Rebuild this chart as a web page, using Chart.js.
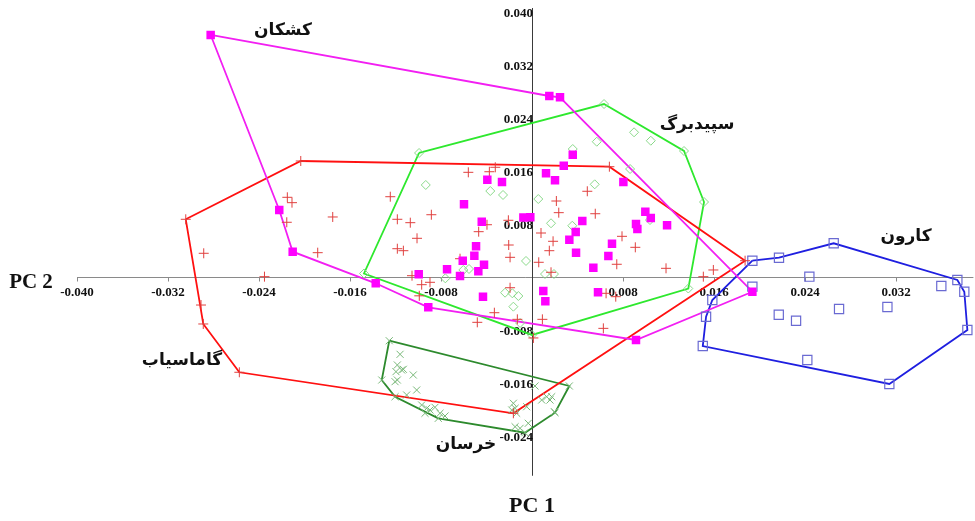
<!DOCTYPE html>
<html>
<head>
<meta charset="utf-8">
<script src="https://cdn.jsdelivr.net/npm/chart.js@4.4.1/dist/chart.umd.min.js"></script>
<style>
  html, body { margin: 0; padding: 0; background: #ffffff; }
  #wrap { width: 975px; height: 521px; }
</style>
</head>
<body>
<div id="wrap"><canvas id="pca" width="975" height="521"></canvas></div>
<script>
// PCA scores (PC 1, PC 2) for five populations.
// In every group the first points are the hull vertices, listed in drawing order.

const kashkanX = [-0.02825, 0.00152, 0.00246, 0.01937, 0.00914, -0.00912, -0.01374, -0.02104, -0.02222,
  0.00358, 0.00279, 0.00123, 0.00202, -0.00393, -0.00264, 0.00803, -0.00598, -0.00076, -0.00015,
  -0.00442, 0.00996, 0.01044, 0.00442, 0.00914, 0.00926, 0.01187, 0.00384, 0.00328, 0.00703,
  -0.00492, -0.00507, 0.00387, 0.00671, -0.00609, -0.00422, -0.00472, -0.00747, -0.00633, -0.00996,
  0.00539, -0.00431, 0.00099, 0.00117, 0.00580];
const kashkanY = [0.03653, 0.02732, 0.02713, -0.00222, -0.00951, -0.00457, -0.00095, 0.00382, 0.01011,
  0.01846, 0.01680, 0.01565, 0.01460, 0.01469, 0.01434, 0.01434, 0.01097, 0.00898, 0.00901,
  0.00835, 0.00986, 0.00891, 0.00845, 0.00800, 0.00725, 0.00780, 0.00679, 0.00563, 0.00503,
  0.00463, 0.00322, 0.00367, 0.00317, 0.00246, 0.00186, 0.00086, 0.00116, 0.00015, 0.00041,
  0.00140, -0.00297, -0.00211, -0.00367, -0.00231];
const kashkanHull = 9;

const gamasiabX = [-0.03044, -0.02033, 0.00680, 0.01873, -0.00164, -0.02573, -0.02890,
  -0.02910, -0.00323, -0.00375, -0.00560, 0.00486, 0.00214, 0.00235, 0.00556, -0.01246, -0.00885,
  -0.01184, -0.01070, -0.00208, -0.00396, -0.00469, 0.00079, -0.01011, 0.00185, -0.00205, -0.01184,
  -0.01131, 0.00791, 0.00908, 0.00152, -0.00633, -0.00193, 0.00059, 0.00745, 0.00167, 0.01178,
  -0.01055, -0.00970, -0.00897, -0.00991, -0.00193, 0.00651, 0.00736, 0.01506, 0.01594, -0.02151,
  -0.02110, -0.02156, -0.01752, -0.02886, -0.01884, -0.02352, 0.00012, -0.00331, -0.00481, -0.00129,
  0.00091, 0.00627];
const gamasiabY = [0.00871, 0.01751, 0.01665, 0.00246, -0.02057, -0.01438, -0.00709,
  -0.00423, 0.01656, 0.01589, 0.01580, 0.01294, 0.01147, 0.00971, 0.00955, 0.01212, 0.00940,
  0.00871, 0.00820, 0.00856, 0.00789, 0.00684, 0.00664, 0.00584, 0.00539, 0.00483, 0.00427,
  0.00397, 0.00614, 0.00448, 0.00397, 0.00276, 0.00297, 0.00222, 0.00192, 0.00071, 0.00131,
  0.00020, -0.00116, -0.00080, -0.00284, -0.00162, -0.00246, -0.00297, 0.00005, 0.00106, 0.01203,
  0.01122, 0.00826, 0.00906, 0.00358, 0.00367, 0.00005, -0.00920, -0.00539, -0.00684, -0.00639,
  -0.00639, -0.00775];
const gamasiabHull = 7;

const sepidbargX = [-0.00993, 0.00633, 0.01336, 0.01512, 0.01374, 0.00000, -0.01477,
  0.00358, 0.00569, 0.00897, 0.01044, -0.00934, -0.00367, -0.00255, 0.00551, 0.00055, 0.00862,
  0.00167, 0.00354, 0.01037, -0.00053, -0.00604, -0.00554, -0.00762, 0.00114, 0.00193, -0.00237,
  -0.00173, -0.00120, -0.00164, -0.00105];
const sepidbargY = [0.01872, 0.02611, 0.01902, 0.01132, -0.00174, -0.00875, 0.00053,
  0.01932, 0.02042, 0.02184, 0.02057, 0.01389, 0.01298, 0.01238, 0.01399, 0.01177, 0.01630,
  0.00811, 0.00774, 0.00860, 0.00242, 0.00106, 0.00121, -0.00020, 0.00045, 0.00045, -0.00237,
  -0.00246, -0.00287, -0.00448, -0.00694];
const sepidbargHull = 7;

const khorasanX = [-0.01255, -0.01321, -0.01204, -0.00824, -0.00062, 0.00202, 0.00328,
  -0.01160, -0.01184, -0.01146, -0.01196, -0.01131, -0.01044, -0.01204, -0.01184, -0.01014, -0.01102,
  -0.00970, -0.00926, -0.00897, -0.00853, -0.00809, -0.00765, -0.00941, -0.00164, -0.00178, -0.00149,
  -0.00135, -0.00047, -0.00149, -0.00105, -0.00033, 0.00026, 0.00085, 0.00129, 0.00173, 0.00158,
  0.00196];
const khorasanY = [-0.00962, -0.01555, -0.01807, -0.02133, -0.02350, -0.02048, -0.01645,
  -0.01167, -0.01328, -0.01404, -0.01429, -0.01393, -0.01479, -0.01580, -0.01555, -0.01706, -0.01781,
  -0.01932, -0.01982, -0.02008, -0.01967, -0.02057, -0.02098, -0.02057, -0.01906, -0.02008, -0.01982,
  -0.02057, -0.01958, -0.02260, -0.02284, -0.02208, -0.01645, -0.01857, -0.01807, -0.01807, -0.01857,
  -0.02033];
const khorasanHull = 7;

const karunX = [0.01937, 0.02171, 0.02652, 0.03739, 0.03800, 0.03827, 0.03141, 0.01501, 0.01530, 0.01585,
  0.01937, 0.02438, 0.03598, 0.02699, 0.03124, 0.02169, 0.02321, 0.02420];
const karunY = [0.00246, 0.00291, 0.00509, -0.00045, -0.00222, -0.00800, -0.01615, -0.01042, -0.00599, -0.00347,
  -0.00146, 0.00005, -0.00136, -0.00483, -0.00453, -0.00569, -0.00660, -0.01253];
const karunHull = 10;

// Axis ticks
const xTicks = [-0.040, -0.032, -0.024, -0.016, -0.008, 0.008, 0.016, 0.024, 0.032];
const yTicks = [0.040, 0.032, 0.024, 0.016, 0.008, -0.008, -0.016, -0.024];

// Group names
const groupNames = ['کشکان', 'گاماسیاب', 'سپیدبرگ', 'خرسان', 'کارون'];

// ---------------------------------------------------------------

function pts(xs, ys) { return xs.map((v, i) => ({ x: v, y: ys[i] })); }
function hull(xs, ys, n) {
  const p = pts(xs, ys).slice(0, n);
  p.push(p[0]);
  return p;
}

const groups = [
  { name: groupNames[0], xs: kashkanX, ys: kashkanY, n: kashkanHull, line: '#f21ff2',
    marker: { pointStyle: 'rect', pointRadius: 6, backgroundColor: '#ff00ff', borderColor: '#ff00ff', borderWidth: 0 } },
  { name: groupNames[1], xs: gamasiabX, ys: gamasiabY, n: gamasiabHull, line: '#ff1010',
    marker: { pointStyle: 'cross', pointRadius: 5, backgroundColor: 'rgba(0,0,0,0)', borderColor: '#e0403f', borderWidth: 1 } },
  { name: groupNames[2], xs: sepidbargX, ys: sepidbargY, n: sepidbargHull, line: '#2ee82e',
    marker: { pointStyle: 'rectRot', pointRadius: 4.5, backgroundColor: 'rgba(0,0,0,0)', borderColor: '#8ad98a', borderWidth: 1 } },
  { name: groupNames[3], xs: khorasanX, ys: khorasanY, n: khorasanHull, line: '#2d8a2d',
    marker: { pointStyle: 'crossRot', pointRadius: 5, backgroundColor: 'rgba(0,0,0,0)', borderColor: '#79b879', borderWidth: 1 } },
  { name: groupNames[4], xs: karunX, ys: karunY, n: karunHull, line: '#1f1fe0',
    marker: { pointStyle: 'rect', pointRadius: 6.5, backgroundColor: 'rgba(0,0,0,0)', borderColor: '#6a6ad2', borderWidth: 1.2 } }
];

const datasets = [];
groups.forEach((g) => {
  datasets.push(Object.assign({
    label: g.name,
    data: pts(g.xs, g.ys),
    showLine: false,
    order: 1
  }, g.marker));
  datasets.push({
    label: g.name + ' hull',
    data: hull(g.xs, g.ys, g.n),
    showLine: true,
    borderColor: g.line,
    borderWidth: 1.8,
    pointRadius: 0,
    tension: 0,
    fill: false,
    order: 2
  });
});

// Where each group name sits (data coordinates)
const nameAnchors = [
  { text: groupNames[0], x: -0.02189, y: 0.03713 },
  { text: groupNames[1], x: -0.03077, y: -0.01268 },
  { text: groupNames[2], x: 0.01451, y: 0.02294 },
  { text: groupNames[3], x: -0.00580, y: -0.02536 },
  { text: groupNames[4], x: 0.03288, y: 0.00604 }
];

const centredAxes = {
  id: 'centredAxes',
  beforeDatasetsDraw(chart) {
    const { ctx, scales: { x, y } } = chart;
    const x0 = Math.round(x.getPixelForValue(0)) + 0.5;
    const y0 = Math.round(y.getPixelForValue(0)) + 0.5;
    ctx.save();
    // horizontal axis (PC 1)
    ctx.strokeStyle = '#8a8a8a';
    ctx.lineWidth = 1;
    ctx.beginPath();
    ctx.moveTo(x.getPixelForValue(xTicks[0]), y0);
    ctx.lineTo(x.right, y0);
    ctx.stroke();
    xTicks.forEach((v) => {
      const px = Math.round(x.getPixelForValue(v)) + 0.5;
      ctx.beginPath();
      ctx.moveTo(px, y0);
      ctx.lineTo(px, y0 + 4);
      ctx.stroke();
    });
    // vertical axis (PC 2)
    ctx.strokeStyle = '#3a3a3a';
    ctx.beginPath();
    ctx.moveTo(x0, y.top - 4);
    ctx.lineTo(x0, y.bottom);
    ctx.stroke();

    ctx.fillStyle = '#111111';
    ctx.font = 'bold 13px "Liberation Serif", "Times New Roman", serif';
    ctx.textBaseline = 'middle';
    ctx.textAlign = 'center';
    xTicks.forEach((v) => {
      ctx.fillText(v.toFixed(3), x.getPixelForValue(v), y0 + 15);
    });
    ctx.textAlign = 'right';
    yTicks.forEach((v) => {
      ctx.fillText(v.toFixed(3), x0 + 0.5, y.getPixelForValue(v) + 2);
    });
    ctx.restore();
  },
  afterDatasetsDraw(chart) {
    const { ctx, scales: { x, y } } = chart;
    ctx.save();
    ctx.fillStyle = '#111111';
    ctx.textBaseline = 'middle';
    ctx.textAlign = 'center';
    ctx.font = 'bold 21px "Liberation Serif", "Times New Roman", serif';
    ctx.fillText('PC 2', 31, 283);
    ctx.font = 'bold 22px "Liberation Serif", "Times New Roman", serif';
    ctx.fillText('PC 1', x.getPixelForValue(0), 506);

    ctx.direction = 'rtl';
    ctx.font = 'bold 17px "DejaVu Sans", sans-serif';
    nameAnchors.forEach((a) => {
      ctx.fillText(a.text, x.getPixelForValue(a.x), y.getPixelForValue(a.y));
    });
    ctx.restore();
  }
};

new Chart(document.getElementById('pca'), {
  type: 'scatter',
  data: { datasets },
  options: {
    responsive: false,
    animation: false,
    devicePixelRatio: 1,
    layout: { autoPadding: false, padding: { left: 77, right: 1.6, top: 12, bottom: 45.25 } },
    scales: {
      x: { type: 'linear', min: -0.040, max: 0.0388, display: false },
      y: { type: 'linear', min: -0.030, max: 0.040, display: false }
    },
    plugins: {
      legend: { display: false },
      tooltip: { enabled: false }
    }
  },
  plugins: [centredAxes]
});
</script>
</body>
</html>
